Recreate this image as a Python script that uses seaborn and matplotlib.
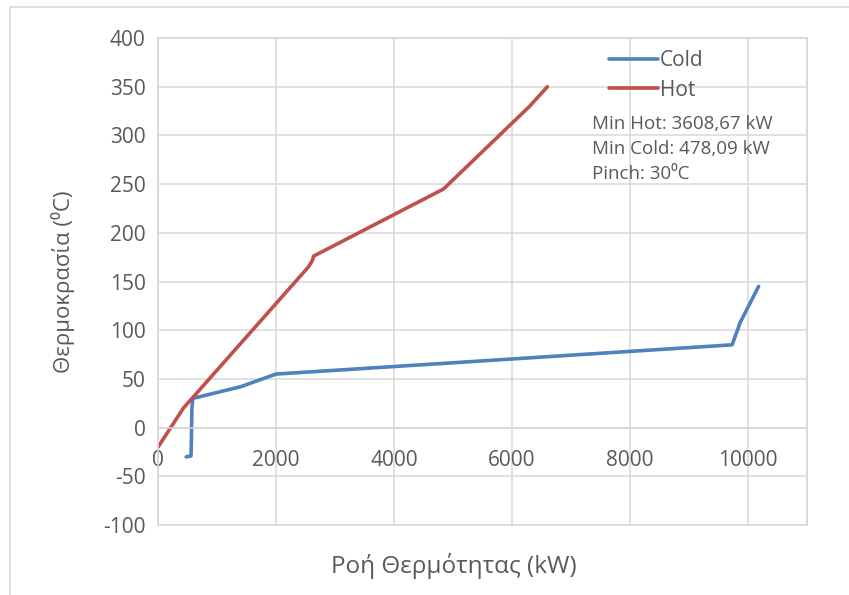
import pandas as pd
import seaborn as sns
import matplotlib.pyplot as plt
from matplotlib.patches import Rectangle
from matplotlib.lines import Line2D

# Composite curves (heat flow kW, temperature °C)
cold_q = [478, 560, 565, 575, 590, 1400, 2000, 4850, 9730, 9840, 9860, 10180]
cold_t = [-30, -29, -15, 20, 30, 42, 55, 66, 85, 103, 107, 145]
hot_q = [0, 430, 2550, 2620, 2635, 4840, 6300, 6600]
hot_t = [-20, 20, 165, 172, 176, 245, 330, 350]

series = ['Cold', 'Hot']
colors = ['#4F81BD', '#C0504D']
x_ticks = [0, 2000, 4000, 6000, 8000, 10000]
y_ticks = [-100, -50, 0, 50, 100, 150, 200, 250, 300, 350, 400]
notes = ['Min Hot: 3608,67 kW', 'Min Cold: 478,09 kW', 'Pinch: 30\u2070C']

df = pd.concat([
    pd.DataFrame({'q': cold_q, 't': cold_t, 'stream': 'Cold'}),
    pd.DataFrame({'q': hot_q, 't': hot_t, 'stream': 'Hot'}),
], ignore_index=True)

sns.set_style('white')
plt.rcParams['font.family'] = ['Open Sans', 'DejaVu Sans']
grey = '#d9d9d9'
txt = '#595959'

fig = plt.figure(figsize=(8.49, 5.95), dpi=100)
ax = fig.add_axes([0.1861, 0.1176, 0.7644, 0.8185])

sns.lineplot(data=df, x='q', y='t', hue='stream', hue_order=series,
             palette=colors, sort=False, estimator=None, linewidth=2.6,
             legend=False, ax=ax)

ax.set_xlim(0, 11000)
ax.set_ylim(-100, 400)
ax.set_xticks(x_ticks)
ax.set_yticks(y_ticks)
ax.set_xticklabels([str(v) for v in x_ticks])
ax.set_yticklabels([str(v) for v in y_ticks])
ax.grid(True, color=grey, linewidth=1.1)
ax.set_axisbelow(True)

for s in ['left', 'right', 'top']:
    ax.spines[s].set_color(grey)
    ax.spines[s].set_linewidth(1.1)
ax.spines['bottom'].set_position(('data', 0))
ax.spines['bottom'].set_color(grey)
ax.spines['bottom'].set_linewidth(1.1)
ax.patch.set_edgecolor(grey)
ax.patch.set_linewidth(1.1)

ax.tick_params(axis='both', length=0, labelsize=15, colors=txt)
ax.tick_params(axis='x', pad=16)
ax.tick_params(axis='y', pad=9)

ax.set_xlabel('Ροή Θερμότητας (kW)', fontsize=17.5, color=txt)
ax.set_ylabel('Θερμοκρασία (\u2070C)', fontsize=16, color=txt)
ax.xaxis.set_label_coords(0.456, -0.058)
ax.yaxis.set_label_coords(-0.128, 0.5)

handles = [Line2D([], [], color=c, linewidth=2.6) for c in colors]
ax.legend(handles, series, loc='upper left', bbox_to_anchor=(0.666, 1.014),
          frameon=False, fontsize=15, handlelength=2.35, handletextpad=0.1,
          labelspacing=0.42, labelcolor=txt)

ax.text(0.669, 0.841, '\n'.join(notes), transform=ax.transAxes,
        fontsize=13.5, color=txt, va='top', ha='left', linespacing=1.48)

fig.patches.append(Rectangle((0.0118, -0.2), 1.5, 1.188, transform=fig.transFigure,
                             fill=False, edgecolor=grey, linewidth=1.2))

fig.savefig('out.png', dpi=100)
